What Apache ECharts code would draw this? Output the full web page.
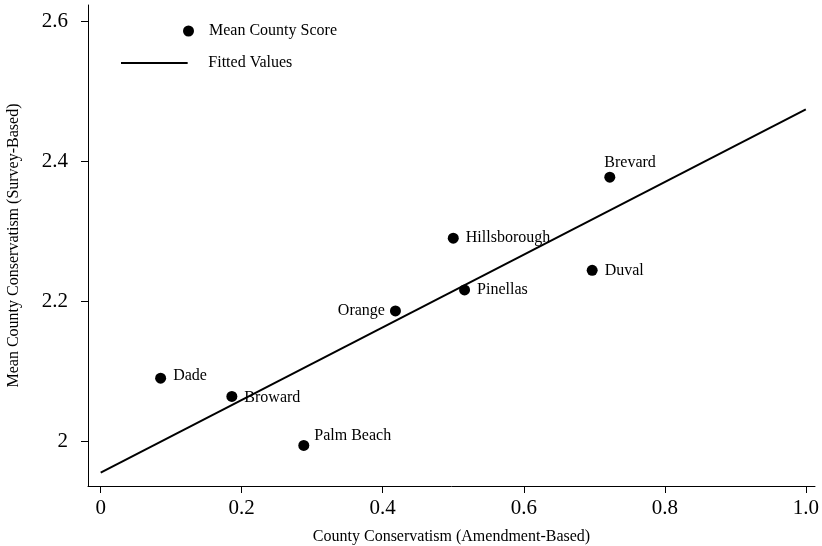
<!DOCTYPE html><html><head><meta charset="utf-8">
<script src="https://cdn.jsdelivr.net/npm/echarts@6/dist/echarts.min.js"></script>
<style>body{margin:0}#c{width:822px;height:546px}</style></head><body><div id="c"></div>
<script>
const counties=['Dade','Broward','Palm Beach','Orange','Hillsborough','Pinellas','Duval','Brevard'];
const amendment=[0.085,0.186,0.288,0.418,0.50,0.516,0.697,0.722];
const survey=[2.090,2.064,1.994,2.186,2.290,2.216,2.244,2.377];
const fitX=[0,1];
const fitY=[1.955,2.474];
const xTicks=[0,0.2,0.4,0.6,0.8,1.0];
const yTicks=[2,2.2,2.4,2.6];
const labelPos={'Dade':[2,-2,'right'],'Broward':[2,1,'right'],'Palm Beach':[0,-10,'right'],'Orange':[0,0,'left'],'Hillsborough':[2,0,'right'],'Pinellas':[2,0,'right'],'Duval':[2,0,'right'],'Brevard':[-16,-14,'right']};
const F='Liberation Serif';
const chart=echarts.init(document.getElementById('c'));
chart.setOption({
 animation:false,
 textStyle:{fontFamily:F,color:'#000'},
 grid:{left:88,right:7,top:5,bottom:60,outerBoundsMode:'none',containLabel:false},
 legend:[
  {data:[{name:'Mean County Score',icon:'circle'}],left:178,top:18,itemWidth:11,itemHeight:11,textStyle:{fontFamily:F,fontSize:16,color:'#000',padding:[0,0,0,10]}},
  {data:[{name:'Fitted Values',icon:'path://M0,0H100V3H0Z'}],left:116,top:50,itemWidth:78,itemHeight:2,textStyle:{fontFamily:F,fontSize:16,color:'#000',padding:[0,0,0,10]}}
 ],
 xAxis:{type:'value',min:-0.018,max:1.013,splitLine:{show:false},
  name:'County Conservatism (Amendment-Based)',nameLocation:'middle',nameGap:43,nameTextStyle:{fontFamily:F,fontSize:16,color:'#000'},
  axisLine:{onZero:false,lineStyle:{color:'#000'}},axisTick:{show:true,length:7,customValues:xTicks,lineStyle:{color:'#000'}},
  axisLabel:{customValues:xTicks,fontFamily:F,fontSize:21,color:'#000',margin:12,formatter:v=>v===0?'0':v===1?'1.0':String(v)}},
 yAxis:{type:'value',min:1.936,max:2.623,splitLine:{show:false},
  name:'Mean County Conservatism (Survey-Based)',nameLocation:'middle',nameGap:66,nameTextStyle:{fontFamily:F,fontSize:16,color:'#000'},
  axisLine:{show:true,onZero:false,lineStyle:{color:'#000'}},axisTick:{show:true,length:7,customValues:yTicks,lineStyle:{color:'#000'}},
  axisLabel:{customValues:yTicks,fontFamily:F,fontSize:21,color:'#000',margin:20,formatter:v=>v===2?'2':v.toFixed(1)}},
 series:[
  {name:'Mean County Score',type:'scatter',symbolSize:11,itemStyle:{color:'#000',opacity:1},
   data:counties.map((n,i)=>({value:[amendment[i],survey[i]],name:n,label:{show:true,formatter:n,position:labelPos[n][2],offset:[labelPos[n][0],labelPos[n][1]],fontFamily:F,fontSize:16,color:'#000'}}))},
  {name:'Fitted Values',type:'line',symbol:'none',lineStyle:{color:'#000',width:2},itemStyle:{color:'#000'},
   data:fitX.map((x,i)=>[x,fitY[i]])}
 ]
});
</script></body></html>
